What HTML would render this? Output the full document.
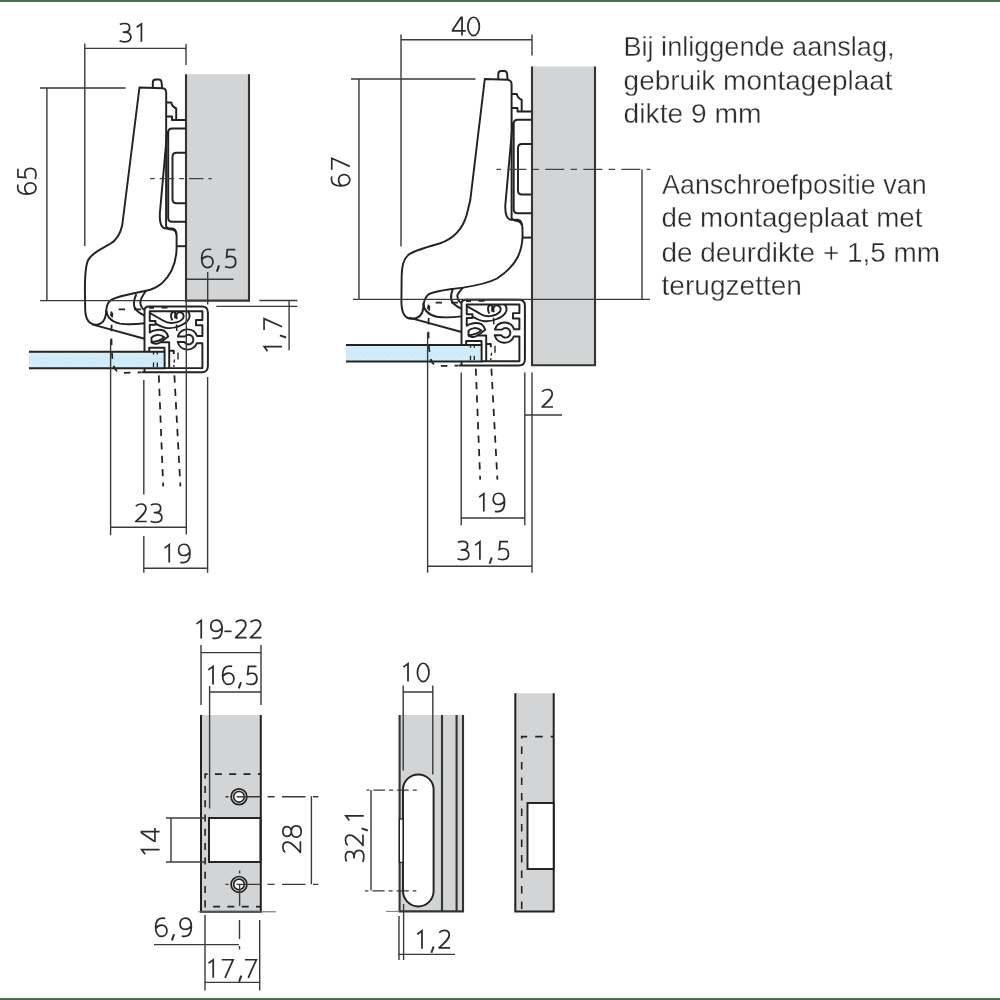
<!DOCTYPE html>
<html><head><meta charset="utf-8">
<style>
html,body{margin:0;padding:0;background:#fff;}
svg{display:block;}
text{font-family:"Liberation Sans",sans-serif;fill:#2b2b2b;stroke:#fff;stroke-width:0.35px;paint-order:normal;}
svg{will-change:transform;}
</style></head>
<body>
<svg width="1000" height="1000" viewBox="0 0 1000 1000">
<defs>
<pattern id="glassdots" patternUnits="userSpaceOnUse" x="29.3" y="351.8" width="6" height="16.4"><circle cx="0" cy="6.7" r="0.55" fill="#9db5c2" opacity="0.55"/><circle cx="6" cy="6.7" r="0.55" fill="#9db5c2" opacity="0.55"/><circle cx="3" cy="7.6" r="0.55" fill="#9db5c2" opacity="0.55"/><circle cx="0" cy="10.6" r="0.55" fill="#9db5c2" opacity="0.55"/><circle cx="6" cy="10.6" r="0.55" fill="#9db5c2" opacity="0.55"/></pattern>
<!-- digit glyphs -->
<g id="g0"><ellipse cx="6.6" cy="-9.6" rx="5.75" ry="9.6"/></g>
<g id="g1"><path d="M0.9,-15.2 L5.6,-18.8 L5.6,0"/></g>
<g id="g2"><path d="M1.3,-16.8 C2.6,-18.5 4.4,-19.2 6.4,-19.2 C9.6,-19.2 11.4,-17.2 11.4,-14.3 C11.4,-11 9,-8.2 1.2,-0.85 L12.2,-0.85" stroke-linejoin="round"/></g>
<g id="g3"><path d="M1.3,-18.1 C2.6,-18.9 4.2,-19.2 6,-19.2 C9.3,-19.2 11.1,-17.4 11.1,-14.8 C11.1,-11.9 8.9,-10.2 5.4,-10.2 L4.2,-10.2 M5.4,-10.2 C9.8,-10.2 12.3,-8.2 12.3,-5.1 C12.3,-1.9 9.9,0 6,0 C3.9,0 2.3,-0.4 1,-1.1"/></g>
<g id="g4"><path d="M10.3,0 L10.3,-19 L9.3,-19 L0.9,-5.9 L0.9,-4.9 L14,-4.9"/></g>
<g id="g5"><path d="M11.3,-18.9 L3.3,-18.9 L2.6,-10.7 C3.9,-11.4 5.2,-11.7 6.4,-11.7 C9.6,-11.7 11.7,-9.4 11.7,-5.9 C11.7,-2.2 9.3,0 5.8,0 C3.9,0 2.3,-0.4 1.1,-1.1"/></g>
<g id="g6"><path d="M10.6,-18.9 C9.7,-19.1 8.7,-19.2 7.7,-19.2 C3.6,-19.2 1,-15.6 1,-9.2 C1,-3.4 3.3,0 6.8,0 C10.1,0 12.3,-2.5 12.3,-6 C12.3,-9.6 10.1,-11.8 7,-11.8 C4.7,-11.8 2.7,-10.6 1.3,-8.6"/></g>
<g id="g7"><path d="M0.9,-18.9 L12.3,-18.9 L4.2,0"/></g>
<g id="g8"><path d="M6.6,-10.4 C3.6,-10.4 1.8,-12.3 1.8,-14.8 C1.8,-17.5 3.8,-19.2 6.6,-19.2 C9.4,-19.2 11.4,-17.5 11.4,-14.8 C11.4,-12.3 9.6,-10.4 6.6,-10.4 C3.2,-10.4 1,-8.3 1,-5.2 C1,-2 3.3,0 6.6,0 C9.9,0 12.2,-2 12.2,-5.2 C12.2,-8.3 10,-10.4 6.6,-10.4 Z"/></g>
<g id="g9"><path d="M2.4,-0.3 C3.3,-0.1 4.3,0 5.3,0 C9.4,0 12,-3.6 12,-10 C12,-15.8 9.7,-19.2 6.2,-19.2 C2.9,-19.2 0.7,-16.7 0.7,-13.2 C0.7,-9.6 2.9,-7.4 6,-7.4 C8.3,-7.4 10.3,-8.6 11.7,-10.6"/></g>
<g id="gc"><path d="M3.7,-2.3 L1.5,4.2" stroke-width="2"/></g>
<g id="gh"><path d="M-0.8,-7.4 L6.4,-7.4"/></g>

<!-- shared upper hinge parts (hinge-1 coordinates) -->
<g id="armtop" fill="none" stroke="#222" stroke-width="1.95" stroke-linejoin="round">
  <path d="M152.8,87.8 L152.8,82.5 Q152.8,79.5 155.8,79.5 L158.8,79.5 Q161.3,79.5 161.6,82.5 L162.1,88.2"/>
  <path d="M166.3,102.5 L171.3,102.5 Q172,106.5 176.2,108.5 L176.2,120"/>
  <path d="M166.3,116.5 L172,116.5 L172,120 L186,120"/>
  <path d="M186,128.4 L172.2,128.4 Q168.2,128.4 168.2,132.4 L168.2,217.8 Q168.2,221.8 172.2,221.8 L186,221.8"/>
  <path d="M186,152.7 L176.5,152.7 Q172.5,152.7 172.5,156.7 L172.5,199.2 Q172.5,203.2 176.5,203.2 L186,203.2"/>
  <path d="M167.2,131 L159.8,214 Q159.4,228.4 166,228.4 L172.4,228.4 Q176.2,229 176.4,234.4"/>
  <path d="M176.8,246.2 L186,246.2"/>
</g>
<!-- shared lower hinge parts (hinge-1 coordinates) -->
<g id="armbot">
  <g fill="none" stroke="#222" stroke-width="1.95" stroke-linejoin="round">
    <path d="M92,324.4 L144.5,338.8"/>
    <path d="M106.2,310 C107,318 112,322 120,323.6 C128,324.6 136,324.2 144.5,323.2"/>
    <!-- profile outer -->
    <path d="M144.5,368.2 L144.5,372.2 M144.5,351.4 L144.5,310.5 Q144.5,306.5 149,306.5 L201.9,306.5 Q207.9,306.5 207.9,312.5 L207.9,366 Q207.9,372.2 201.9,372.2 L141.8,372.2"/>
    <!-- profile inner -->
    <path d="M149.2,351.2 L149.2,347.8 L164.5,347.8 L164.5,351.2"/>
    <path d="M164.5,368.1 L202.4,368.1 L202.4,343.2 L196.9,343.2 A10.1,10.1 0 0 1 177.7,342 L184.4,342 A4.8,4.8 0 1 0 185,336.4 L177.9,336.4 A10.1,10.1 0 0 1 197,336 L202.4,336 L202.4,325.2 L196,325.2 L196,319.9 L202.4,319.9 L202.4,311.25 L149.75,311.25 L149.75,321 L155.5,321 L155.5,324.75 L149.75,324.75 L149.75,332.5 C153,330 160,328.8 164.5,331 C166.5,332.3 167.5,334.5 168.2,336.6 C165.5,338.8 162.8,340.8 160.5,342.3"/>
    <path d="M151.5,337.6 C154,334.6 160,333.6 164.2,337.2 C161,340.4 156.5,341.6 151.5,342.3 Z"/>
    <path d="M151.5,342.3 C153.5,344.2 157.5,344.6 160.5,342.3 L169.2,342.3 L169.2,368.1"/>
    <!-- spring -->
    <path d="M149.8,313 L163,320.5 C166,322.5 169,323.2 173,322.9 C177,322.5 181,321 183,318.5 C184.2,316.5 183.8,313.8 181.5,312.6 C179.5,311.7 177.3,312.3 176.5,314.5 C176,316.5 176.5,318 177.2,318.8"/>
    <path d="M172.5,320.3 C170.8,318.5 170.5,314 172,312.5 C173.2,311.5 174.7,311.8 175.2,312.5 L175.2,318.5"/>
    <path d="M155.5,323.5 C159,325.5 163,327.8 168,328.1 C172,328.3 177,327.3 181,325.3 C185,323.5 188,321.5 189.2,318 C190,315 189.2,312.5 187.5,311.2"/>
    <path d="M176.5,324.5 L176.8,331" stroke-width="1.4"/>
    <path d="M169.3,350.8 L173.8,350.8 L173.8,354"/>
  </g>
  <!-- glass -->
  <rect x="29" y="351.8" width="135.6" height="16.4" fill="#d1edfa"/>
  <rect x="29" y="351.8" width="135.6" height="16.4" fill="url(#glassdots)"/>
  <path d="M29,351.8 L164.6,351.8 L164.6,368.2 L29,368.2" fill="none" stroke="#222" stroke-width="1.95"/>
  <g fill="none" stroke="#222" stroke-width="1.75" stroke-dasharray="5,4">
    <path d="M112.4,312.8 C111,328 111.2,350 112.8,362 C113.8,369 116.5,372.8 122.5,372.8 L141.5,372.4" stroke-dasharray="6.5 7.2" stroke-dashoffset="1.7"/>
    <path d="M118.7,309.4 L125,309.4 M134,309.4 L141,309.4" stroke-dasharray="none"/>
    <path d="M149,307.9 L154,307.9 M161.5,307.6 L167.5,307.6" stroke-dasharray="none"/>
    <path d="M111.6,311.5 L110.8,316" stroke-dasharray="none"/>
    <path d="M158.8,375.4 L163.2,486.4" stroke-dasharray="7.2 6.2"/>
    <path d="M174.4,375.4 L180.4,486.4" stroke-dasharray="7.2 6.2"/>
  </g>
  <g fill="none" stroke="#222" stroke-width="1.3" stroke-dasharray="2,2">
    <path d="M153.5,352 L153.5,354.5 M157.3,352 L157.3,354.5 M153.5,362.5 L153.5,367 M157.3,362.5 L157.3,367" stroke-dasharray="none"/>
    <path d="M178,352.5 L178,359.5" stroke-dasharray="none" stroke-width="1.4"/>
    <path d="M174.5,359.5 L173.8,367" stroke-dasharray="3,2.5" stroke-width="1.4"/>
  </g>
</g>
</defs>

<!-- green bars -->
<rect x="0" y="0" width="1000" height="2" fill="#46704e"/>
<rect x="0" y="998" width="1000" height="2" fill="#46704e"/>

<!-- ================= HINGE 1 ================= -->
<rect x="186" y="74.2" width="63" height="226.4" fill="#d3d4d6"/>
<path d="M186,74.2 L186,300.6 L249,300.6 L249,74.2" fill="none" stroke="#333" stroke-width="2.1"/>
<!-- arm contour hinge 1 -->
<path d="M139.45,87.5 L162.5,88.3 Q166.2,88.8 166.2,92.5 L166.1,226 Q166.5,229 172,229.6 Q176.4,230.5 176.6,235 L176.6,247 C176.6,262 171,275 161.6,283.6 C155,289 149,290.3 146,290.8 L134,293.2 C125,295 116.5,297 111.6,299.6 C107.5,302 106.6,306 106.3,310 C106,318 103,324.6 96,324.6 C89,324.6 85.6,318.5 85.2,310 L84.9,290 C84.9,276 85.2,266 88.2,260 C91.5,254 100,249.5 110,244 C117,240 120.5,233 122.2,225.5 L139.45,87.5 Z" fill="none" stroke="#222" stroke-width="1.95" stroke-linejoin="round"/>
<use href="#armtop"/>
<use href="#armbot"/>
<path d="M136.4,294.2 C134.5,298 133.6,303 134.2,306.4 C135.5,310.5 139,313 144.5,315.5 M146,290.8 C143,295 140.5,299 140.3,302 C140.5,306 142,308.5 144.5,310" fill="none" stroke="#222" stroke-width="1.95"/>

<g fill="none" stroke="#3a3a3a" stroke-width="1.4">
  <!-- 31 -->
  <path d="M84.8,43.5 L84.8,246 M84.8,48.4 L186,48.4 M186,44 L186,65"/>
  <!-- 65 -->
  <path d="M40,88 L125.6,88 M46.9,88 L46.9,300.6 M40,300.6 L186,300.6"/>
  <!-- 6,5 -->
  <path d="M187,279.2 L233.5,279.2 M207.7,272 L207.7,304.5"/>
  <!-- 1,7 -->
  <path d="M259.4,300.5 L297.4,300.5 M216.3,306.4 L297.4,306.4 M289.1,300.5 L289.1,350.2"/>
  <!-- 23 / 19 -->
  <path d="M110.6,339.5 L110.6,535.3 M110.6,527.2 L186.3,527.2 M186.3,300.6 L186.3,534.6"/>
  <path d="M143.8,380 L143.8,494.6 M143.8,536 L143.8,572.7 M143.8,568.3 L207.6,568.3 M207.6,377 L207.6,572.7"/>
</g>
<path d="M150,178.6 L211.8,178.6" fill="none" stroke="#444" stroke-width="1.4" stroke-dasharray="14.5 5 4.7 5" stroke-dashoffset="19.5"/>



<!-- ================= HINGE 2 ================= -->
<rect x="532" y="66.4" width="63" height="298.8" fill="#d3d4d6"/>
<path d="M532,66.4 L532,365.2 L595,365.2 L595,66.4" fill="none" stroke="#333" stroke-width="2.1"/>
<path d="M484.8,79 L507.5,79.8 Q511.6,80.3 511.6,84 L511.6,217.6 Q512,220.3 517.5,221 Q522,222 522.4,227 L522.6,236 C522.3,244 520.8,251 517.5,257.5 C513,266 505.5,273 497,278.5 C489,282.8 478,285.3 463,287.6 L453,288.9 C442,290.5 432.5,291.8 428.4,294.4 C424.4,297.5 423.5,302 423.2,308 C422.6,315 418.5,318.8 411.5,318.8 C404.5,318.8 401.6,312 401.4,302 L401.6,281 C401.6,266 403,259 409.5,254 C416,250 429,246.5 439.5,243.5 C453,239 462.5,230 466.8,214.5 L470.3,200 Z" fill="none" stroke="#222" stroke-width="1.95" stroke-linejoin="round"/>
<use href="#armtop" transform="translate(345.5,-8.6)"/>
<use href="#armbot" transform="translate(317,-6.8)"/>
<path d="M453,288.9 C451.3,292.5 450.6,296.2 451.2,299.6 C452.5,303.7 456,306.2 461.5,308.7 M463,287.6 C460.3,290.8 457.8,293.5 457.3,295.5 C457.5,299.2 459,301.7 461.5,303.2" fill="none" stroke="#222" stroke-width="1.95"/>

<g fill="none" stroke="#3a3a3a" stroke-width="1.4">
  <!-- 40 -->
  <path d="M401,34.5 L401,246.5 M401,39.7 L532,39.7 M532,34.5 L532,55.5"/>
  <!-- 67 -->
  <path d="M351,79 L475.5,79 M359,79 L359,299.4 M353,299.4 L650,299.4"/>
  <!-- 19 / 31,5 / 2 -->
  <path d="M427.6,332.4 L427.6,572.8 M427.6,566.3 L532,566.3 M532,372.4 L532,572.8"/>
  <path d="M461.2,372.4 L461.2,525.3 M461.2,518 L524.8,518 M524.8,372.4 L524.8,525.3 M524.8,415 L562,415"/>
  <!-- bracket -->
  <path d="M642,169.4 L642,299.4"/>
</g>
<path d="M496.5,169.4 L650.3,169.4" fill="none" stroke="#444" stroke-width="1.4" stroke-dasharray="19 6.3 6.5 6.2" stroke-dashoffset="27.2"/>



<!-- ================= TEXT ================= -->
<g font-size="28">
  <text x="623.5" y="55.8" textLength="271" lengthAdjust="spacingAndGlyphs">Bij inliggende aanslag,</text>
  <text x="623.6" y="90" textLength="269" lengthAdjust="spacingAndGlyphs">gebruik montageplaat</text>
  <text x="623.6" y="122.5" textLength="138" lengthAdjust="spacingAndGlyphs">dikte 9 mm</text>
  <text x="662" y="193.7" textLength="264.6" lengthAdjust="spacingAndGlyphs">Aanschroefpositie van</text>
  <text x="661.5" y="227.3" textLength="261" lengthAdjust="spacingAndGlyphs">de montageplaat met</text>
  <text x="661.5" y="261.6" textLength="278.5" lengthAdjust="spacingAndGlyphs">de deurdikte + 1,5 mm</text>
  <text x="661.5" y="294.5" textLength="140.5" lengthAdjust="spacingAndGlyphs">terugzetten</text>
</g>

<!-- ================= STRIKE PLATE 1 ================= -->
<rect x="201" y="715" width="59.8" height="196.8" fill="#d3d4d6"/>
<path d="M201,715 L201,911.8 L260.8,911.8 L260.8,715" fill="none" stroke="#222" stroke-width="2"/>
<path d="M198.4,911.8 L276,911.8" fill="none" stroke="#666" stroke-width="1"/>
<path d="M260.8,774.1 L205.1,774.1 L205.1,906.6 L260.8,906.6" fill="none" stroke="#222" stroke-width="1.6" stroke-dasharray="7 7.3" stroke-dashoffset="4"/>
<rect x="209" y="818" width="51.4" height="44" fill="#fff" stroke="#222" stroke-width="1.95"/>
<g stroke="#222">
  <circle cx="239" cy="796.8" r="7.9" stroke-width="1.7" fill="none"/>
  <circle cx="239" cy="796.8" r="5.3" stroke-width="1.6" fill="#fff"/>
  <circle cx="239" cy="884.4" r="7.9" stroke-width="1.7" fill="none"/>
  <circle cx="239" cy="884.4" r="5.3" stroke-width="1.6" fill="#fff"/>
</g>
<g fill="none" stroke="#3a3a3a" stroke-width="1.4">
  <path d="M201,652.6 L261,652.6 M201,645 L201,705 M261,645 L261,705"/>
  <path d="M209.6,692 L261,692 M209.6,686 L209.6,808.4"/>
  <path d="M166,818 L204.7,818 M166,862 L204.7,862 M171,818 L171,862"/>
  <path d="M311.4,796.3 L311.4,884.3"/>
  <path d="M205,915 L205,990.4 M259.7,920 L259.7,990.4 M205,982.4 L259.7,982.4 M154,944.6 L239,944.6"/>
  <path d="M236.6,796.8 L260.8,796.8 M225.5,796.8 L228.5,796.8 M239.6,870.6 L239.6,873.6 M239.6,884.4 L239.6,906 M236.6,884.4 L260.8,884.4 M225.5,884.4 L228.5,884.4"/>
</g>
<g fill="none" stroke="#3a3a3a" stroke-width="1.4">
  <path d="M267.6,796.8 L318.3,796.8 M267.6,884.4 L318.3,884.4" stroke-dasharray="7 7.5 23.4 7.5"/>
  <path d="M239.5,920 L239.5,939 M239.5,946 L239.5,949.6"/>
</g>

<!-- ================= STRIKE PLATE 2 ================= -->
<rect x="399.6" y="715" width="63.4" height="196.4" fill="#d3d4d6"/>
<path d="M399.6,715 L399.6,911.4 L463,911.4 L463,715 M442,715 L442,911.4 M456.6,715 L456.6,911.4" fill="none" stroke="#333" stroke-width="2.1"/>
<path d="M386,911.4 L399.6,911.4" fill="none" stroke="#777" stroke-width="1"/>
<rect x="403" y="774.4" width="30.6" height="132" rx="15.3" ry="15.3" fill="#fff" stroke="#222" stroke-width="1.95"/>
<rect x="399.4" y="819" width="3.6" height="43.4" fill="#fff" stroke="#222" stroke-width="1.2"/>
<g fill="none" stroke="#3a3a3a" stroke-width="1.4">
  <path d="M403.2,692 L432.8,692 M403.2,685.6 L403.2,770.4 M432.8,685.6 L432.8,774.4"/>
  <path d="M371,790 L371,890.4"/>
  <path d="M399,916 L399,960 M403.6,904 L403.6,960 M398,954.4 L455,954.4"/>
</g>
<g fill="none" stroke="#3a3a3a" stroke-width="1.4">
  <path d="M366.6,790.1 L417.4,790.1" stroke-dasharray="11.6 4.1 4 4" stroke-dashoffset="16.9"/>
  <path d="M364.9,890.85 L416.3,890.85" stroke-dasharray="12.2 4 4 4" stroke-dashoffset="16.7"/>
</g>

<!-- ================= STRIKE PLATE 3 ================= -->
<rect x="515.3" y="693.2" width="38.4" height="218.4" fill="#d3d4d6"/>
<path d="M515.3,693.2 L515.3,911.6 L553.7,911.6 L553.7,693.2" fill="none" stroke="#222" stroke-width="2"/>
<path d="M553.7,736.6 L521.7,736.6 L521.7,910" fill="none" stroke="#222" stroke-width="1.6" stroke-dasharray="7.5 8" stroke-dashoffset="4.5"/>
<rect x="527.5" y="803" width="26.2" height="66" fill="#fff" stroke="#222" stroke-width="1.95"/>

<!-- digit labels -->
<g fill="none" stroke="#2b2b2b" stroke-width="1.75">
<use href="#g3" transform="translate(118.58,41.8) scale(1,0.955)"/>
<use href="#g1" transform="translate(135.82,41.8) scale(1,0.955)"/>
<use href="#g4" transform="translate(451.75,35.6) scale(1,0.955)"/>
<use href="#g0" transform="translate(467.00,35.6) scale(1,0.955)"/>
<use href="#g6" transform="translate(200.68,267.6) scale(1,0.955)"/>
<use href="#gc" transform="translate(215.38,267.6) scale(1,0.955)"/>
<use href="#g5" transform="translate(224.00,267.6) scale(1,0.955)"/>
<use href="#g2" transform="translate(134.52,522.3) scale(1,0.955)"/>
<use href="#g3" transform="translate(149.58,522.3) scale(1,0.955)"/>
<use href="#g1" transform="translate(163.62,562.6) scale(1,0.955)"/>
<use href="#g9" transform="translate(177.92,562.6) scale(1,0.955)"/>
<use href="#g1" transform="translate(478.22,511.6) scale(1,0.955)"/>
<use href="#g9" transform="translate(492.52,511.6) scale(1,0.955)"/>
<use href="#g3" transform="translate(456.53,559.7) scale(1,0.955)"/>
<use href="#g1" transform="translate(474.32,559.7) scale(1,0.955)"/>
<use href="#gc" transform="translate(488.08,559.7) scale(1,0.955)"/>
<use href="#g5" transform="translate(496.75,559.7) scale(1,0.955)"/>
<use href="#g2" transform="translate(540.82,407.8) scale(1,0.955)"/>
<use href="#g1" transform="translate(195.62,638.4) scale(1,0.955)"/>
<use href="#g9" transform="translate(210.12,638.4) scale(1,0.955)"/>
<use href="#gh" transform="translate(225.15,638.4) scale(1,0.955)"/>
<use href="#g2" transform="translate(234.42,638.4) scale(1,0.955)"/>
<use href="#g2" transform="translate(249.22,638.4) scale(1,0.955)"/>
<use href="#g1" transform="translate(207.42,684.4) scale(1,0.955)"/>
<use href="#g6" transform="translate(221.58,684.4) scale(1,0.955)"/>
<use href="#gc" transform="translate(237.28,684.4) scale(1,0.955)"/>
<use href="#g5" transform="translate(245.15,684.4) scale(1,0.955)"/>
<use href="#g1" transform="translate(402.42,681.6) scale(1,0.955)"/>
<use href="#g0" transform="translate(416.60,681.6) scale(1,0.955)"/>
<use href="#g1" transform="translate(416.37,948.75) scale(1,0.955)"/>
<use href="#gc" transform="translate(429.88,948.75) scale(1,0.955)"/>
<use href="#g2" transform="translate(437.87,948.75) scale(1,0.955)"/>
<use href="#g6" transform="translate(154.63,936.4) scale(1,0.955)"/>
<use href="#gc" transform="translate(170.38,936.4) scale(1,0.955)"/>
<use href="#g9" transform="translate(179.37,936.4) scale(1,0.955)"/>
<use href="#g1" transform="translate(207.62,977.8) scale(1,0.955)"/>
<use href="#g7" transform="translate(220.82,977.8) scale(1,0.955)"/>
<use href="#gc" transform="translate(237.58,977.8) scale(1,0.955)"/>
<use href="#g7" transform="translate(244.02,977.8) scale(1,0.955)"/>
<g transform="translate(36.0,195.12) rotate(-90)">
<use href="#g6" transform="translate(0.00,0) scale(1,0.955)"/>
<use href="#g5" transform="translate(14.97,0) scale(1,0.955)"/>
</g>
<g transform="translate(349.8,186.92) rotate(-90)">
<use href="#g6" transform="translate(0.00,0) scale(1,0.955)"/>
<use href="#g7" transform="translate(16.34,0) scale(1,0.955)"/>
</g>
<g transform="translate(282.1,352.1) rotate(-90)">
<use href="#g1" transform="translate(0.00,0) scale(1,0.955)"/>
<use href="#gc" transform="translate(13.06,0) scale(1,0.955)"/>
<use href="#g7" transform="translate(21.10,0) scale(1,0.955)"/>
</g>
<g transform="translate(159.6,855.18) rotate(-90)">
<use href="#g1" transform="translate(0.00,0) scale(1,0.955)"/>
<use href="#g4" transform="translate(13.18,0) scale(1,0.955)"/>
</g>
<g transform="translate(301.2,853.55) rotate(-90)">
<use href="#g2" transform="translate(0.00,0) scale(1,0.955)"/>
<use href="#g8" transform="translate(15.43,0) scale(1,0.955)"/>
</g>
<g transform="translate(363.8,862.8) rotate(-90)">
<use href="#g3" transform="translate(0.00,0) scale(1,0.955)"/>
<use href="#g2" transform="translate(16.22,0) scale(1,0.955)"/>
<use href="#gc" transform="translate(30.75,0) scale(1,0.955)"/>
<use href="#g1" transform="translate(41.39,0) scale(1,0.955)"/>
</g>
</g>
</svg>
</body></html>
